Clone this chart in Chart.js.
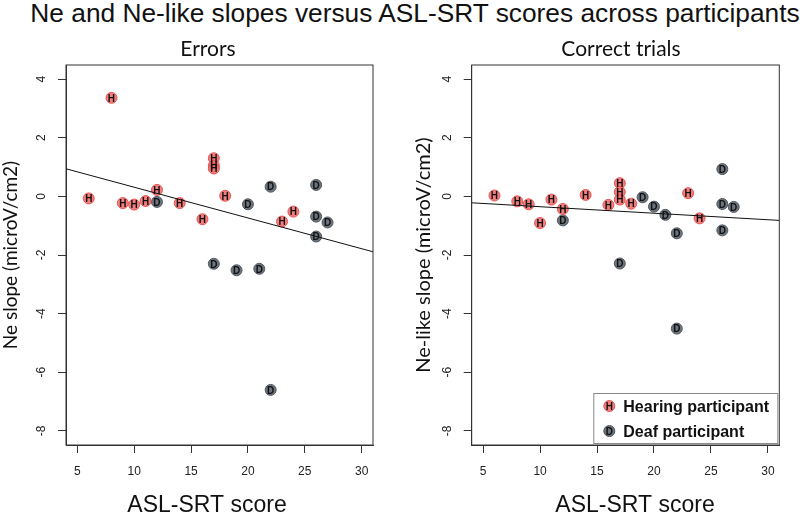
<!DOCTYPE html>
<html>
<head>
<meta charset="utf-8">
<script src="https://cdn.jsdelivr.net/npm/chart.js@4.4.1/dist/chart.umd.min.js"></script>
<style>
  html, body { margin: 0; padding: 0; background: #ffffff; }
  #wrap { position: relative; width: 800px; height: 517px; overflow: hidden; background: #ffffff; }
  #mainTitle { position: absolute; left: 15px; top: 0px; width: 800px; text-align: center;
    font: 26.3px "Liberation Sans", Arial, sans-serif; line-height: 26px; color: #111; white-space: nowrap; }
  .panel { position: absolute; top: 0; width: 400px; height: 517px; }
</style>
</head>
<body>
<div id="wrap">
  <div id="mainTitle"></div>
  <div class="panel" style="left:0px"><canvas id="errorsChart" width="400" height="517"></canvas></div>
  <div class="panel" style="left:400px"><canvas id="correctChart" width="400" height="517"></canvas></div>
</div>
<script>
// ---------------- data ----------------
const mainTitle = 'Ne and Ne-like slopes versus ASL-SRT scores across participants';
const panelTitles = ['Errors', 'Correct trials'];
const yTitles = ['Ne slope (microV/cm2)', 'Ne-like slope (microV/cm2)'];
const xTitle = 'ASL-SRT score';
const seriesLabels = ['Hearing participant', 'Deaf participant'];
const seriesLetters = ['H', 'D'];

const scoreTicks = [5, 10, 15, 20, 25, 30];
const slopeTicks = [-8, -6, -4, -2, 0, 2, 4];

const hearingScores = [6, 8, 9, 10, 11, 12, 14, 16, 17, 17, 17, 18, 23, 24];
const deafScores = [12, 17, 19, 20, 21, 22, 22, 26, 26, 26, 27];

const errorsHearing = [-0.07, 3.36, -0.23, -0.28, -0.16, 0.22, -0.23, -0.78, 1.30, 1.05, 0.95, 0.02, -0.86, -0.52];
const errorsDeaf = [-0.19, -2.30, -2.52, -0.27, -2.47, 0.33, -6.60, 0.39, -0.69, -1.37, -0.89];
const correctHearing = [0.03, -0.17, -0.27, -0.91, -0.11, -0.43, 0.05, -0.29, 0.45, 0.15, -0.11, -0.25, 0.11, -0.75];
const correctDeaf = [-0.82, -2.29, -0.03, -0.35, -0.63, -1.26, -4.51, 0.93, -0.26, -1.16, -0.36];

const fitScores = [4, 31];
const errorsFit = [0.94, -1.89];
const correctFit = [-0.22, -0.82];

// ---------------- rendering ----------------
document.getElementById('mainTitle').textContent = mainTitle;

Chart.defaults.font.family = '"Liberation Sans", Arial, sans-serif';
Chart.defaults.color = '#222';

const H_FILL = 'rgba(242,112,112,0.9)';
const H_EDGE = 'rgba(226,76,76,0.9)';
const D_FILL = '#6c747e';
const D_EDGE = '#535960';
const AXIS = '#333';

function pts(xs, ys) { return xs.map((x, i) => ({ x: x, y: ys[i] })); }

const panelPlugin = {
  id: 'panelDecor',
  afterDatasetsDraw(chart) {
    const ctx = chart.ctx;
    ctx.save();
    ctx.font = 'bold 10px "Liberation Sans", Arial, sans-serif';
    ctx.fillStyle = '#111';
    ctx.textAlign = 'center';
    ctx.textBaseline = 'middle';
    chart.data.datasets.forEach((ds, di) => {
      if (!ds.letter) return;
      chart.getDatasetMeta(di).data.forEach(el => {
        ctx.fillText(ds.letter, el.x, el.y + 1);
      });
    });
    ctx.restore();
  },
  afterDraw(chart) {
    const p = chart.options.plugins.panelDecor;
    const ctx = chart.ctx;
    const a = chart.chartArea;
    const cx = (a.left + a.right) / 2;
    ctx.save();
    // frame around plot region
    ctx.strokeStyle = AXIS;
    ctx.lineWidth = 1;
    ctx.strokeRect(a.left, a.top, a.right - a.left, a.bottom - a.top);
    // rotated y tick labels
    const ys = chart.scales.y;
    ctx.fillStyle = '#222';
    ctx.font = '12px "Liberation Sans", Arial, sans-serif';
    ctx.textAlign = 'center';
    ctx.textBaseline = 'middle';
    slopeTicks.forEach(v => {
      const py = ys.getPixelForValue(v);
      ctx.save();
      ctx.translate(a.left - 24, py);
      ctx.rotate(-Math.PI / 2);
      ctx.fillText(String(v), 0, 0);
      ctx.restore();
    });
    // panel title
    ctx.fillStyle = '#111';
    ctx.font = '21px Lato, "Open Sans", sans-serif';
    ctx.textBaseline = 'alphabetic';
    ctx.fillText(p.title, cx + p.titleDx, 56);
    // x axis title
    ctx.font = '23px "Liberation Sans", Arial, sans-serif';
    ctx.fillText(xTitle, cx + p.xTitleDx, 512);
    // legend
    if (p.legend) {
      const w = 184, h = 50;
      const lx = a.right - 2 - w, ly = a.bottom - 2 - h;
      ctx.fillStyle = '#fff';
      ctx.fillRect(lx, ly, w, h);
      ctx.strokeStyle = '#8a8a8a';
      ctx.lineWidth = 1;
      ctx.strokeRect(lx + 0.5, ly + 0.5, w, h);
      [1, 2].forEach((di, k) => {
        const ds = chart.data.datasets[di];
        const my = ly + 13 + k * 25;
        ctx.beginPath();
        ctx.arc(lx + 16, my, 5.5, 0, Math.PI * 2);
        ctx.fillStyle = ds.backgroundColor;
        ctx.fill();
        ctx.strokeStyle = ds.borderColor;
        ctx.stroke();
        ctx.fillStyle = '#111';
        ctx.font = 'bold 10px "Liberation Sans", Arial, sans-serif';
        ctx.textAlign = 'center';
        ctx.textBaseline = 'middle';
        ctx.fillText(ds.letter, lx + 16, my + 1);
        ctx.font = 'bold 16px "Liberation Sans", Arial, sans-serif';
        ctx.textAlign = 'left';
        ctx.textBaseline = 'alphabetic';
        ctx.fillText(ds.label, lx + 30, my + 6);
      });
    }
    ctx.restore();
  }
};

function makeChart(id, p) {
  return new Chart(document.getElementById(id), {
    type: 'scatter',
    data: {
      datasets: [
        { type: 'line', label: 'fit', data: pts(fitScores, p.fit), borderColor: '#111', borderWidth: 1,
          pointRadius: 0, fill: false, tension: 0, order: 0 },
        { label: seriesLabels[0], letter: seriesLetters[0], data: pts(hearingScores, p.hearing),
          backgroundColor: H_FILL, borderColor: H_EDGE, borderWidth: 1, pointRadius: 5.5, pointHoverRadius: 5.5, order: 1 },
        { label: seriesLabels[1], letter: seriesLetters[1], data: pts(deafScores, p.deaf),
          backgroundColor: D_FILL, borderColor: D_EDGE, borderWidth: 1, pointRadius: 5.5, pointHoverRadius: 5.5, order: 2 }
      ]
    },
    options: {
      responsive: false,
      animation: false,
      events: [],
      layout: { padding: { left: 0, right: p.padRight, top: 65, bottom: 0 } },
      plugins: {
        legend: { display: false },
        title: { display: false },
        tooltip: { enabled: false },
        panelDecor: { title: p.title, titleDx: p.titleDx, xTitleDx: p.xTitleDx, legend: p.legend }
      },
      scales: {
        x: {
          type: 'linear', min: 4, max: 31,
          afterBuildTicks: s => { s.ticks = scoreTicks.map(v => ({ value: v })); },
          grid: { drawOnChartArea: false, drawTicks: true, tickLength: 8, color: AXIS, tickColor: AXIS },
          border: { display: true, color: AXIS, width: 1 },
          ticks: { font: { size: 12 }, color: '#222', padding: 11, maxRotation: 0, minRotation: 0, autoSkip: false },
          afterFit: s => { s.height = 72; }
        },
        y: {
          type: 'linear', min: -8.48, max: 4.48,
          afterBuildTicks: s => { s.ticks = slopeTicks.map(v => ({ value: v })); },
          grid: { drawOnChartArea: false, drawTicks: true, tickLength: 8, color: AXIS, tickColor: AXIS },
          border: { display: true, color: AXIS, width: 1 },
          ticks: { display: false },
          title: { display: true, text: p.yTitle, color: '#111', font: { family: 'Lato, "Open Sans", sans-serif', size: p.yTitleSize },
                   padding: { top: p.yTitlePad, bottom: 0 } },
          afterFit: s => { s.width = p.left; }
        }
      }
    },
    plugins: [panelPlugin]
  });
}

makeChart('errorsChart', {
  hearing: errorsHearing, deaf: errorsDeaf, fit: errorsFit,
  title: panelTitles[0], yTitle: yTitles[0], yTitleSize: 19,
  left: 66, padRight: 27, titleDx: -11.5, xTitleDx: -12.5, yTitlePad: -1, legend: false
});
makeChart('correctChart', {
  hearing: correctHearing, deaf: correctDeaf, fit: correctFit,
  title: panelTitles[1], yTitle: yTitles[1], yTitleSize: 20,
  left: 71.7, padRight: 20.7, titleDx: -4.5, xTitleDx: 9.5, yTitlePad: 12, legend: true
});
</script>
</body>
</html>
